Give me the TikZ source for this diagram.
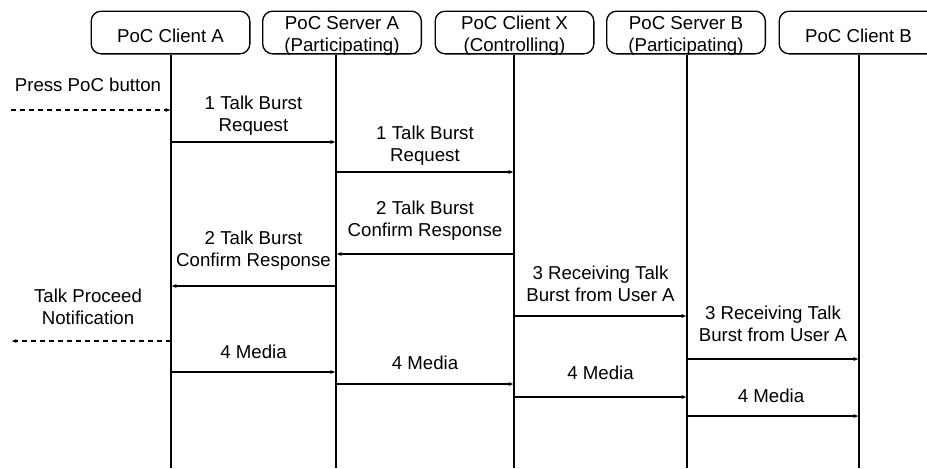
\documentclass[tikz,border=0pt]{standalone}
\usepackage{fontspec}
\setmainfont{Liberation Sans}
\usetikzlibrary{arrows.meta}

\begin{document}
\begin{tikzpicture}[
    x=0.75pt, y=-0.75pt,
    every node/.style={font=\fontsize{14}{16.5}\selectfont},
    entity/.style={
        draw,
        rectangle,
        rounded corners=7.5pt,
        line width=1pt,
        minimum width=119pt,
        minimum height=32pt,
        inner sep=1pt,
        text height=14.5pt,
        align=center
    },
    twoline/.style={
        text height=28.8pt,
        text depth=1pt
    },
    life/.style={
        line width=1.5pt
    },
    msg/.style={
        -{Latex[length=4pt,width=3pt]},
        line width=1.2pt
    },
    note/.style={
        -{Latex[length=4pt,width=3pt]},
        line width=1pt,
        dash pattern=on 3.75pt off 3pt
    },
    lbl/.style={
        align=center,
        inner sep=0pt
    }
]
\useasboundingbox (0,0) rectangle (927,468);

% Entities
\node[entity] (ca) at (170.5,32.5) {PoC Client A};
\node[entity, twoline] (sa) at (342,32.5) {PoC Server A\\(Participating)};
\node[entity, twoline] (cx) at (514.5,32.5) {PoC Client X\\(Controlling)};
\node[entity, twoline] (sb) at (686,32.5) {PoC Server B\\(Participating)};
\node[entity] (cb) at (858.5,32.5) {PoC Client B};

% Lifelines
\coordinate (lca) at (171,468);
\coordinate (lsa) at (336,468);
\coordinate (lcx) at (514,468);
\coordinate (lsb) at (687,468);
\coordinate (lcb) at (859,468);
\coordinate (user) at (11,468);
\draw[life] (lca |- ca.south) -- (lca);
\draw[life] (lsa |- sa.south) -- (lsa);
\draw[life] (lcx |- cx.south) -- (lcx);
\draw[life] (lsb |- sb.south) -- (lsb);
\draw[life] (lcb |- cb.south) -- (lcb);

% Labels
\node[lbl] (press) at (88,85) {Press PoC button};
\node[lbl] (m1a) at (253.5,116) {1 Talk Burst\\Request};
\node[lbl] (m1b) at (425,146) {1 Talk Burst\\Request};
\node[lbl] (m2b) at (425,221) {2 Talk Burst\\Confirm Response};
\node[lbl] (m2a) at (253.5,251) {2 Talk Burst\\Confirm Response};
\node[lbl] (m3a) at (600.5,284) {3 Receiving Talk\\Burst from User A};
\node[lbl] (proceed) at (88,306.5) {Talk Proceed\\Notification};
\node[lbl] (m3b) at (773,324) {3 Receiving Talk\\Burst from User A};
\node[lbl] (m4a) at (253.5,352) {4 Media};
\node[lbl] (m4b) at (425,363) {4 Media};
\node[lbl] (m4c) at (600.5,373) {4 Media};
\node[lbl] (m4d) at (771,396) {4 Media};

% Messages
\draw[note] (user |- 0,110) -- (lca |- 0,110);
\draw[msg] (lca |- 0,142) -- (lsa |- 0,142);
\draw[msg] (lsa |- 0,172) -- (lcx |- 0,172);
\draw[msg] (lcx |- 0,254) -- (lsa |- 0,254);
\draw[msg] (lsa |- 0,286) -- (lca |- 0,286);
\draw[msg] (lcx |- 0,316) -- (lsb |- 0,316);
\draw[note] (lca |- 0,341) -- (user |- 0,341);
\draw[msg] (lsb |- 0,359) -- (lcb |- 0,359);
\draw[msg] (lca |- 0,372) -- (lsa |- 0,372);
\draw[msg] (lsa |- 0,384) -- (lcx |- 0,384);
\draw[msg] (lcx |- 0,397) -- (lsb |- 0,397);
\draw[msg] (lsb |- 0,416) -- (lcb |- 0,416);

\end{tikzpicture}
\end{document}
